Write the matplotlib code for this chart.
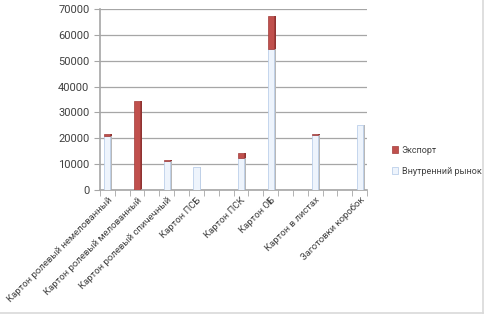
import matplotlib.pyplot as plt
import numpy as np

# 18 slots on the x axis, only 8 of them carry a label and a bar
categories = ['Картон ролевый немелованный', '', 'Картон ролевый мелованный', '',
              'Картон ролевый спичечный', '', 'Картон ПСБ', '', '',
              'Картон ПСК', '', 'Картон ОБ', '', '', 'Картон в листах', '', '',
              'Заготовки коробок']
domestic = [21000, 0, 0, 0, 11200, 0, 8800, 0, 0, 12500, 0, 54500, 0, 0, 21300, 0, 0, 25000]
export = [600, 0, 34500, 0, 400, 0, 0, 0, 0, 1800, 0, 13000, 0, 0, 400, 0, 0, 0]

plt.rcParams['font.family'] = ['Roboto', 'DejaVu Sans']

fig = plt.figure(figsize=(4.85, 3.15), dpi=100)
ax = fig.add_axes([0.206, 0.397, 0.551, 0.574])

x = np.arange(len(categories))
dom = np.array(domestic)
exp_ = np.array(export)
width = 0.42

grid_col = '#a6a6a6'
ax.set_axisbelow(True)
ax.yaxis.grid(True, color=grid_col, lw=0.9)

has_dom = dom > 0
has_exp = exp_ > 0
# front faces
ax.bar(x[has_dom], dom[has_dom], width=width, color='#eef4fc', edgecolor='#bcd0ea', lw=0.6,
       label='Внутренний рынок', zorder=3)
ax.bar(x[has_exp], exp_[has_exp], bottom=dom[has_exp], width=width, color='#c0504d',
       edgecolor='#a03c3a', lw=0.5, label='Экспорт', zorder=3)
# side faces for a bit of depth
ax.bar(x[has_dom] + width / 2 + 0.06, dom[has_dom], width=0.12, color='#b8b8b8', lw=0, zorder=2)
ax.bar(x[has_exp] + width / 2 + 0.06, exp_[has_exp], bottom=dom[has_exp], width=0.12,
       color='#8f3331', lw=0, zorder=2)

ax.set_xlim(-0.5, len(categories) - 0.5)
ax.set_ylim(0, 70000)
ax.set_yticks(np.arange(0, 70001, 10000))
ax.set_xticks(np.arange(-0.5, len(categories) + 0.5, 1), minor=True)
ax.set_xticks(x)
ax.set_xticklabels(categories, rotation=45, ha='right', rotation_mode='anchor', fontsize=6.8,
                   color='#404040')
ax.tick_params(axis='x', which='major', length=0, pad=4)
ax.tick_params(axis='x', which='minor', length=4, color=grid_col)
ax.tick_params(axis='y', labelsize=8, labelcolor='#404040', length=4, color=grid_col)

for s in ['top', 'right']:
    ax.spines[s].set_visible(False)
for s in ['left', 'bottom']:
    ax.spines[s].set_color(grid_col)
    ax.spines[s].set_linewidth(1.2)

handles, labels = ax.get_legend_handles_labels()
leg = fig.legend(handles[::-1], labels[::-1], loc='center left', bbox_to_anchor=(0.795, 0.49),
                 frameon=False, fontsize=6.5, handlelength=0.7, handleheight=0.7,
                 labelspacing=1.3, handletextpad=0.4, borderpad=0.2)
for t in leg.get_texts():
    t.set_color('#404040')

# outer frame at right and bottom edges
fig.add_artist(plt.Line2D([0.996, 0.996], [0.005, 1], transform=fig.transFigure, color='#d9d9d9', lw=1.2))
fig.add_artist(plt.Line2D([0, 0.996], [0.006, 0.006], transform=fig.transFigure, color='#d9d9d9', lw=1.2))

fig.savefig('out.png', dpi=100)
